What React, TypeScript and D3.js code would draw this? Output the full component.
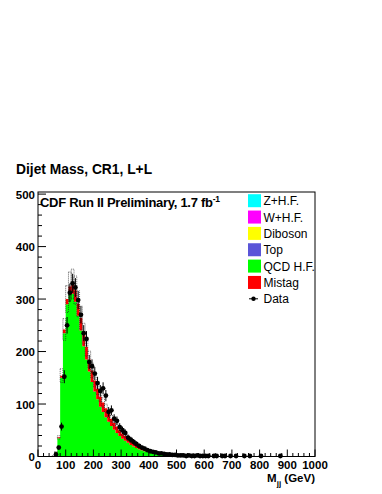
import React, { useEffect, useRef } from 'react';
import * as d3 from 'd3';

// 10 GeV bins from 0 to 1000 GeV
const binWidth = 10;
const dataCounts = [
  0, 0, 0, 0, 0, 0, 4, 17, 57, 152,
  250, 312, 330, 322, 298, 270, 235, 224, 180, 172,
  158, 140, 125, 130, 116, 85, 88, 72, 68, 56,
  50, 45, 36, 32, 28, 24, 20, 17, 15, 12,
  10, 9, 8, 6, 6, 5, 4, 4, 3, 3,
  2, 2, 2, 1, 2, 1, 1, 2, 1, 1,
  1, 1, 0, 1, 1, 0, 1, 1, 0, 1,
  0, 1, 0, 0, 1, 0, 1, 0, 0, 0,
  1, 0, 0, 0, 0, 0, 0, 1, 0, 0,
  0, 0, 0, 0, 0, 0, 0, 0, 0, 0,
];
const qcdHF = [
  0, 0, 0, 0, 0, 1, 8, 35, 150, 235,
  290, 310, 310, 295, 268, 240, 210, 185, 162, 142,
  124, 109, 95, 85, 75, 66, 58, 51, 45, 39,
  34, 30, 26, 22, 19, 16, 14, 12, 10, 8.5,
  7.5, 6.5, 5.5, 5, 4.5, 4, 3.5, 3, 2.5, 2,
  1.8, 1.6, 1.4, 1.3, 1.2, 1.1, 1, 0.9, 0.8, 0.8,
  0.7, 0.6, 0.6, 0.5, 0.5, 0.4, 0.4, 0.4, 0.3, 0.3,
  0.3, 0.2, 0.2, 0.2, 0.2, 0.2, 0.1, 0.1, 0.1, 0.1,
  0.1, 0.1, 0.1, 0.1, 0.1, 0.1, 0.1, 0.1, 0.1, 0.1,
  0, 0, 0, 0, 0, 0, 0, 0, 0, 0,
];
const mistag = [
  0, 0, 0, 0, 0, 0, 0.5, 1.5, 4, 7,
  10, 14, 19, 22, 23, 24, 24, 24, 23, 22,
  21, 20, 19, 18, 17, 15, 14, 13, 12, 11,
  10, 9, 8, 7.5, 7, 6, 5, 4.5, 4, 3.5,
  3, 2.5, 2.2, 1.8, 1.5, 1.3, 1.1, 1, 0.9, 0.8,
  0.7, 0.6, 0.6, 0.5, 0.5, 0.4, 0.4, 0.3, 0.3, 0.3,
  0.2, 0.2, 0.2, 0.2, 0.2, 0.1, 0.1, 0.1, 0.1, 0.1,
  0, 0, 0, 0, 0, 0, 0, 0, 0, 0,
  0, 0, 0, 0, 0, 0, 0, 0, 0, 0,
  0, 0, 0, 0, 0, 0, 0, 0, 0, 0,
];
const bandFrac = 0.085;

const legendNames = ['Z+H.F.', 'W+H.F.', 'Diboson', 'Top', 'QCD H.F.', 'Mistag', 'Data'];
const legendColors = ['#00ffff', '#ff00ff', '#ffff00', '#5a55d8', '#00ff00', '#ff0000', ''];
const yTicks = [0, 100, 200, 300, 400, 500];
const xTicks = [0, 100, 200, 300, 400, 500, 600, 700, 800, 900, 1000];

const font = '"Liberation Sans", Arial, sans-serif';

export default function App() {
  const ref = useRef<SVGSVGElement>(null);

  useEffect(() => {
    const svg = d3.select(ref.current);
    svg.selectAll('*').remove();

    const left = 38, right = 315, top = 192, bottom = 456.5;
    const x = d3.scaleLinear().domain([0, 1000]).range([left, right]);
    const y = d3.scaleLinear().domain([0, 504]).range([bottom, top]);

    const bins = dataCounts.map((d, i) => ({
      lo: i * binWidth,
      hi: (i + 1) * binWidth,
      data: d,
      qcd: qcdHF[i],
      mis: mistag[i],
    }));
    // step points: one per bin low edge plus the final edge
    const steps = bins.concat([{ ...bins[bins.length - 1], lo: 1000 }]);

    const g = svg.append('g');

    // stacked fills: QCD H.F. then Mistag
    const area = d3.area<typeof steps[0]>()
      .curve(d3.curveStepAfter)
      .x(b => x(b.lo));

    g.append('path')
      .datum(steps)
      .attr('d', area.y0(() => y(0)).y1(b => y(b.qcd)))
      .attr('fill', '#00ff00');

    g.append('path')
      .datum(steps)
      .attr('d', area.y0(b => y(b.qcd)).y1(b => y(b.qcd + b.mis)))
      .attr('fill', '#ff0000');

    // dotted uncertainty band around the total
    g.selectAll('rect.band')
      .data(bins.filter(b => b.qcd + b.mis > 0.5))
      .enter()
      .append('rect')
      .attr('x', b => x(b.lo))
      .attr('width', b => x(b.hi) - x(b.lo))
      .attr('y', b => y((b.qcd + b.mis) * (1 + bandFrac)))
      .attr('height', b => y((b.qcd + b.mis) * (1 - bandFrac)) - y((b.qcd + b.mis) * (1 + bandFrac)))
      .attr('fill', 'none')
      .attr('stroke', '#222')
      .attr('stroke-width', 0.7)
      .attr('stroke-dasharray', '1,1');

    // data points
    const pts = bins.filter(b => b.data > 0);
    g.selectAll('line.ey')
      .data(pts)
      .enter()
      .append('line')
      .attr('x1', b => x((b.lo + b.hi) / 2))
      .attr('x2', b => x((b.lo + b.hi) / 2))
      .attr('y1', b => y(b.data + Math.sqrt(b.data)))
      .attr('y2', b => y(Math.max(0, b.data - Math.sqrt(b.data))))
      .attr('stroke', '#000')
      .attr('stroke-width', 1);
    g.selectAll('line.ex')
      .data(pts)
      .enter()
      .append('line')
      .attr('x1', b => x(b.lo))
      .attr('x2', b => x(b.hi))
      .attr('y1', b => y(b.data))
      .attr('y2', b => y(b.data))
      .attr('stroke', '#000')
      .attr('stroke-width', 1);
    g.selectAll('circle.pt')
      .data(pts)
      .enter()
      .append('circle')
      .attr('cx', b => x((b.lo + b.hi) / 2))
      .attr('cy', b => y(b.data))
      .attr('r', 2.4)
      .attr('fill', '#000');

    // frame
    svg.append('rect')
      .attr('x', left).attr('y', top)
      .attr('width', right - left).attr('height', bottom - top)
      .attr('fill', 'none').attr('stroke', '#000').attr('stroke-width', 1);

    // y axis ticks (inward)
    const yMinor = d3.range(0, 501, 20);
    svg.selectAll('line.ytick')
      .data(yMinor)
      .enter()
      .append('line')
      .attr('x1', left)
      .attr('x2', d => left + (d % 100 === 0 ? 8 : 4))
      .attr('y1', d => y(d)).attr('y2', d => y(d))
      .attr('stroke', '#000').attr('stroke-width', 1);
    svg.selectAll('text.ylab')
      .data(yTicks)
      .enter()
      .append('text')
      .attr('x', left - 3)
      .attr('y', d => y(d) + 4.5)
      .attr('text-anchor', 'end')
      .attr('font-family', font).attr('font-weight', 'bold').attr('font-size', 11.5)
      .text(d => d);

    // x axis ticks (inward)
    const xMinor = d3.range(0, 1001, 20);
    svg.selectAll('line.xtick')
      .data(xMinor)
      .enter()
      .append('line')
      .attr('x1', d => x(d)).attr('x2', d => x(d))
      .attr('y1', bottom)
      .attr('y2', d => bottom - (d % 100 === 0 ? 7 : 3.5))
      .attr('stroke', '#000').attr('stroke-width', 1);
    svg.selectAll('text.xlab')
      .data(xTicks)
      .enter()
      .append('text')
      .attr('x', d => x(d))
      .attr('y', 469)
      .attr('text-anchor', 'middle')
      .attr('font-family', font).attr('font-weight', 'bold').attr('font-size', 11.5)
      .text(d => d);

    // axis title
    const xt = svg.append('text')
      .attr('x', right).attr('y', 481.5)
      .attr('text-anchor', 'end')
      .attr('font-family', font).attr('font-weight', 'bold').attr('font-size', 11.5);
    xt.append('tspan').text('M');
    xt.append('tspan').attr('dy', 4).attr('font-size', 8).text('jj');
    xt.append('tspan').attr('dy', -4).text(' (GeV)');

    // title
    svg.append('text')
      .attr('x', 16).attr('y', 173.5)
      .attr('font-family', font).attr('font-weight', 'bold').attr('font-size', 13.8)
      .text('Dijet Mass, CR1, L+L');

    const cdf = svg.append('text')
      .attr('x', 40).attr('y', 207)
      .attr('font-family', font).attr('font-weight', 'bold').attr('font-size', 13)
      .attr('textLength', 180);
    cdf.append('tspan').text('CDF Run II Preliminary, 1.7 fb');
    cdf.append('tspan').attr('dy', -5.5).attr('font-size', 8.5).text('-1');

    // legend
    const leg = svg.append('g');
    legendNames.forEach((name, i) => {
      const cy = 200.7 + i * 16.35;
      if (legendColors[i]) {
        leg.append('rect')
          .attr('x', 248).attr('y', cy - 6.5)
          .attr('width', 13).attr('height', 13)
          .attr('fill', legendColors[i]);
      } else {
        leg.append('line')
          .attr('x1', 249).attr('x2', 258)
          .attr('y1', cy).attr('y2', cy)
          .attr('stroke', '#000').attr('stroke-width', 1);
        leg.append('circle')
          .attr('cx', 253.5).attr('cy', cy).attr('r', 2.2).attr('fill', '#000');
      }
      leg.append('text')
        .attr('x', 263.5).attr('y', cy + 4.5)
        .attr('font-family', font).attr('font-size', 12)
        .text(name);
    });
  }, []);

  return (
    <svg
      ref={ref}
      width={382}
      height={494}
      style={{ position: 'absolute', left: 0, top: 0, background: '#fff' }}
    />
  );
}
